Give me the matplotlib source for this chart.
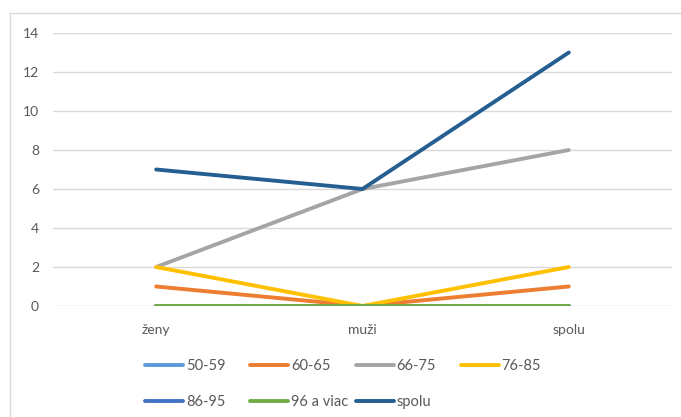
import matplotlib
matplotlib.use("Agg")
import matplotlib.pyplot as plt
from matplotlib.lines import Line2D

categories = ["ženy", "muži", "spolu"]
series_names = ["50-59", "60-65", "66-75", "76-85", "86-95", "96 a viac", "spolu"]
s_50_59 = [0, 0, 0]
s_60_65 = [1, 0, 1]
s_66_75 = [2, 6, 8]
s_76_85 = [2, 0, 2]
s_86_95 = [0, 0, 0]
s_96 = [0, 0, 0]
s_spolu = [7, 6, 13]
values = [s_50_59, s_60_65, s_66_75, s_76_85, s_86_95, s_96, s_spolu]
colors = ["#5B9BD5", "#ED7D31", "#A5A5A5", "#FFC000", "#4472C4", "#70AD47", "#255E91"]
yticks = [0, 2, 4, 6, 8, 10, 12, 14]

plt.rcParams['font.family'] = ['Lato', 'DejaVu Sans']
text_color = "#595959"

fig = plt.figure(figsize=(6.81, 4.17), dpi=100)
# chart-area border (only top and left edges visible in the crop)
bx, by = 9.5 / 681, 1 - 12.5 / 417
fig.add_artist(Line2D([bx, 1], [by, by], transform=fig.transFigure, color="#D9D9D9", linewidth=1))
fig.add_artist(Line2D([bx, bx], [0, by], transform=fig.transFigure, color="#D9D9D9", linewidth=1))

ax = fig.add_axes([53/681, 1-306/417, 619/681, 273/417])
x = list(range(len(categories)))
lines = []
for name, vals, c in zip(series_names, values, colors):
    ln, = ax.plot(x, vals, color=c, linewidth=2.8, label=name, solid_capstyle='round')
    lines.append(ln)

ax.set_xlim(-0.5, len(categories) - 0.5)
ax.set_ylim(0, 14)
ax.set_yticks(yticks)
ax.set_xticks(x)
ax.set_xticklabels(categories)
ax.tick_params(axis='both', length=0, labelsize=10, colors=text_color)
ax.tick_params(axis='x', pad=13)
ax.tick_params(axis='y', pad=10)
for s in ax.spines.values():
    s.set_visible(False)
ax.grid(axis='y', color="#D9D9D9", linewidth=1)
ax.set_axisbelow(True)

# legend: row-major, 4 equally spaced columns
ncol = 4
for col in range(ncol):
    idx = [i for i in range(len(lines)) if i % ncol == col]
    leg = fig.legend([lines[i] for i in idx], [series_names[i] for i in idx],
                     loc='upper left', bbox_to_anchor=((145 + 105.3 * col) / 681, 1 - 359 / 417),
                     frameon=False, fontsize=10.5, handlelength=2.6, handletextpad=0.2,
                     labelspacing=1.5, borderpad=0, borderaxespad=0)
    for t in leg.get_texts():
        t.set_color(text_color)

fig.savefig("out.png", dpi=100)
